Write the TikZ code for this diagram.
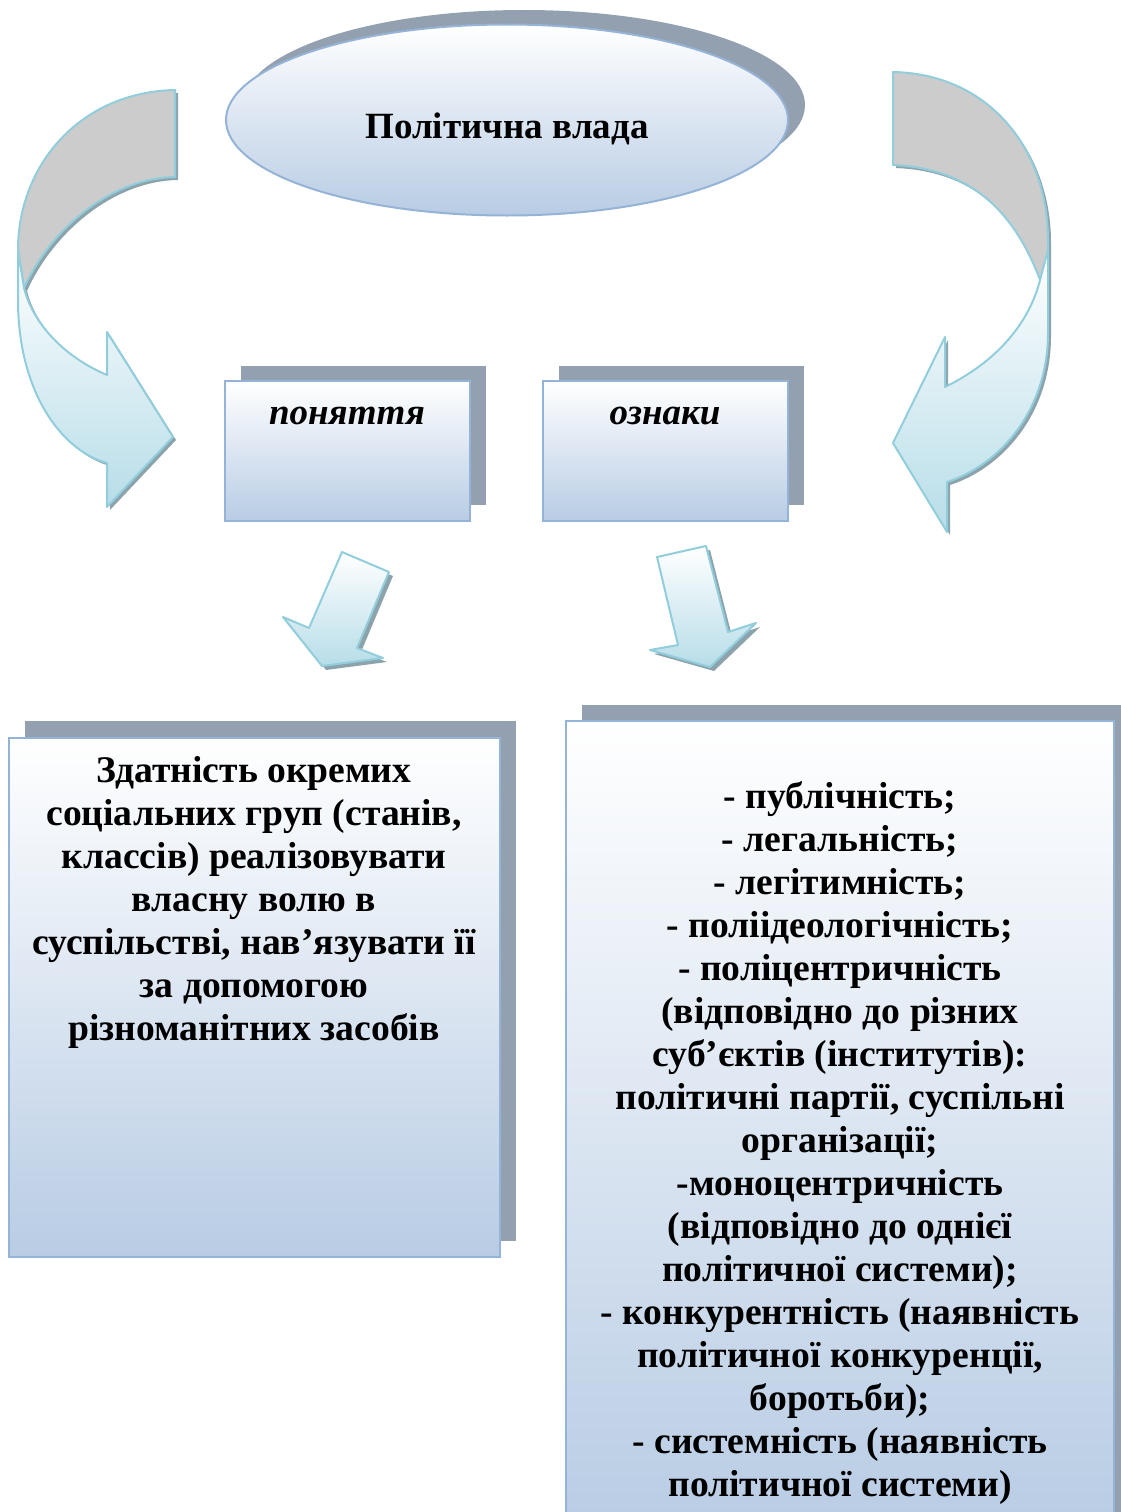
\documentclass[tikz,border=0pt]{standalone}
\usepackage{fontspec}
\setmainfont{Liberation Serif}
\usetikzlibrary{shapes.geometric}
\definecolor{boxline}{RGB}{149,179,215}
\definecolor{boxbot}{RGB}{184,204,228}
\definecolor{shadowc}{RGB}{147,160,176}
\definecolor{arrline}{RGB}{146,205,220}
\definecolor{arrbot}{RGB}{183,221,232}
\definecolor{backc}{RGB}{204,204,204}
\definecolor{arrshadow}{RGB}{140,163,172}
\begin{document}
\begin{tikzpicture}[x=1pt,y=-1pt,
  boxstyle/.style={draw=boxline, line width=2pt, top color=white, bottom color=boxbot, inner sep=0pt},
  shadowbox/.style={fill=shadowc},
  arrfront/.style={draw=arrline, line width=2pt, top color=white, bottom color=arrbot, line join=round},
  arrback/.style={draw=arrline, line width=2pt, fill=backc, line join=round},
  arrshad/.style={fill=arrshadow},
  bigtext/.style={font=\fontsize{37.6}{43}\selectfont\bfseries, align=center, text=black, inner sep=0pt},
  lbltext/.style={font=\fontsize{37}{40}\selectfont\bfseries\itshape, inner sep=0pt}
]
\useasboundingbox (0,0) rectangle (1121,1512);

% ---------- top ellipse ----------
\fill[shadowc] (524,105) ellipse [x radius=281, y radius=95];
\node[ellipse, boxstyle, minimum width=562pt, minimum height=191pt] (pv) at (507,120) {};
\node[bigtext, font=\fontsize{37}{40}\selectfont\bfseries] (pvt) at (507,129) {Політична влада};

% ---------- small boxes ----------
\fill[shadowc] (241,366) rectangle (486,505);
\node[boxstyle, minimum width=245pt, minimum height=140pt] (pn) at (347.5,451) {};
\node[lbltext] (pnt) at (347,416) {поняття};

\fill[shadowc] (559,366) rectangle (804,505);
\node[boxstyle, minimum width=245pt, minimum height=140pt] (oz) at (665.5,451) {};
\node[lbltext] (ozt) at (665,416) {ознаки};

% ---------- left curved arrow ----------
\begin{scope}[shift={(3,3)}]
\fill[arrshad] (175,90) .. controls (80,92) and (18,165) .. (18,250) -- (18,300)
  .. controls (18,390) and (60,450) .. (107,463) -- (107,507) -- (173,437) -- (107,332) -- (107,375)
  .. controls (60,355) and (32,320) .. (24,288) .. controls (50,230) and (110,178) .. (175,177) -- cycle;
\end{scope}
\path[arrback] (175,90) .. controls (80,92) and (18,165) .. (18,250) -- (24,288)
  .. controls (50,230) and (110,178) .. (175,177) -- cycle;
\path[arrfront] (18,250) -- (18,300) .. controls (18,390) and (60,450) .. (107,463)
  -- (107,507) -- (173,437) -- (107,332) -- (107,375)
  .. controls (60,355) and (32,320) .. (24,288) -- cycle;

% ---------- right curved arrow ----------
\begin{scope}[shift={(3,3)}]
\fill[arrshad] (893,72) .. controls (990,74) and (1048,150) .. (1048,240) -- (1048,333)
  .. controls (1048,410) and (1000,465) .. (947,482) -- (947,532) -- (893,443) -- (945,337) -- (945,387)
  .. controls (1000,360) and (1030,320) .. (1040,280) .. controls (1010,200) and (960,168) .. (893,165) -- cycle;
\end{scope}
\path[arrback] (893,72) .. controls (990,74) and (1048,150) .. (1048,240) -- (1048,285)
  -- (1040,280) .. controls (1010,200) and (960,168) .. (893,165) -- cycle;
\path[arrfront] (1048,250) -- (1048,333) .. controls (1048,410) and (1000,465) .. (947,482)
  -- (947,532) -- (893,443) -- (945,337) -- (945,387)
  .. controls (1000,360) and (1030,320) .. (1040,280) -- cycle;

% ---------- down arrows ----------
\begin{scope}[shift={(4,4)}]
\fill[arrshad] (342,552) -- (389,572) -- (357,648) -- (383,658) -- (322,666) -- (283,617) -- (309,628) -- cycle;
\fill[arrshad] (657,557) -- (706,546) -- (728,632) -- (756,623) -- (710,667) -- (650,650) -- (678,645) -- cycle;
\end{scope}
\path[arrfront] (342,552) -- (389,572) -- (357,648) -- (383,658) -- (322,666) -- (283,617) -- (309,628) -- cycle;
\path[arrfront] (657,557) -- (706,546) -- (728,632) -- (756,623) -- (710,667) -- (650,650) -- (678,645) -- cycle;

% ---------- big left box ----------
\fill[shadowc] (25,721) rectangle (516,1241);
\node[boxstyle, minimum width=491pt, minimum height=519pt] (lb) at (254.5,997.5) {};
\node[bigtext] (lbt) at (254,902) {Здатність окремих\\соціальних груп (станів,\\классів) реалізовувати\\власну волю в\\суспільстві, нав’язувати її\\за допомогою\\різноманітних засобів};

% ---------- big right box ----------
\fill[shadowc] (582,705) rectangle (1135,1530);
\node[boxstyle, minimum width=548pt, minimum height=810pt] (rb) at (840,1126) {};
\node[bigtext] (rbt) at (840,1143) {- публічність;\\- легальність;\\- легітимність;\\- поліідеологічність;\\- поліцентричність\\(відповідно до різних\\суб’єктів (інститутів):\\політичні партії, суспільні\\організації;\\-моноцентричність\\(відповідно до однієї\\політичної системи);\\- конкурентність (наявність\\політичної конкуренції,\\боротьби);\\- системність (наявність\\політичної системи)};
\end{tikzpicture}
\end{document}
